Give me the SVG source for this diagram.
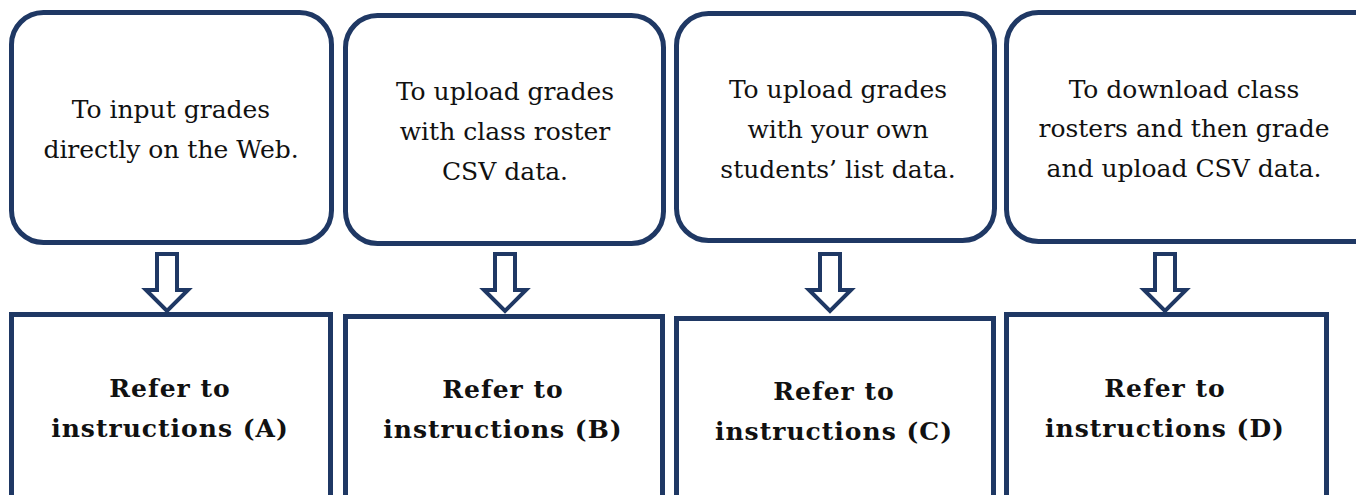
<svg xmlns="http://www.w3.org/2000/svg" width="1356" height="495" viewBox="0 0 1356 495">
<style>
.box{fill:#fff;stroke:#1f3864;stroke-width:5}
.arrow{fill:#fff;stroke:#1f3864;stroke-width:4;stroke-linejoin:miter}
.t{font-family:"DejaVu Serif","Liberation Serif",serif;font-size:25px;fill:#111;text-anchor:middle}
.b{font-family:"DejaVu Serif","Liberation Serif",serif;font-size:25px;font-weight:bold;fill:#111;text-anchor:middle;letter-spacing:1px}
</style>
<defs>
<path id="arr" d="M-10,0 H10 V36 H21 L0,57 L-21,36 H-10 Z"/>
</defs>
<g id="top-a"><rect class="box" x="11.5" y="12.5" width="320" height="230" rx="32"/>
<text class="t" x="171" y="118">To input grades</text><text class="t" x="171" y="158">directly on the Web.</text></g>
<g id="top-b"><rect class="box" x="345.5" y="15.5" width="318" height="228" rx="32"/>
<text class="t" x="505" y="100">To upload grades</text><text class="t" x="505" y="140">with class roster</text><text class="t" x="505" y="180">CSV data.</text></g>
<g id="top-c"><rect class="box" x="676.5" y="13.5" width="318" height="227" rx="32"/>
<text class="t" x="838" y="98">To upload grades</text><text class="t" x="838" y="138">with your own</text><text class="t" x="838" y="178">students’ list data.</text></g>
<g id="top-d"><rect class="box" x="1006.5" y="12.5" width="380" height="229" rx="32"/>
<text class="t" x="1184" y="98">To download class</text><text class="t" x="1184" y="137">rosters and then grade</text><text class="t" x="1184" y="177">and upload CSV data.</text></g>
<g id="bot-a"><rect class="box" x="11.5" y="314.5" width="319" height="200"/>
<text class="b" x="170" y="397">Refer to</text><text class="b" x="170" y="437">instructions (A)</text></g>
<g id="bot-b"><rect class="box" x="345.5" y="316.5" width="317" height="200"/>
<text class="b" x="503" y="398">Refer to</text><text class="b" x="503" y="438">instructions (B)</text></g>
<g id="bot-c"><rect class="box" x="676.5" y="318.5" width="317" height="200"/>
<text class="b" x="834" y="400">Refer to</text><text class="b" x="834" y="440">instructions (C)</text></g>
<g id="bot-d"><rect class="box" x="1006.5" y="314.5" width="320" height="200"/>
<text class="b" x="1165" y="397">Refer to</text><text class="b" x="1165" y="437">instructions (D)</text></g>
<g id="connectors">
<use href="#arr" class="arrow" x="167" y="254"/>
<use href="#arr" class="arrow" x="505" y="254"/>
<use href="#arr" class="arrow" x="830" y="254"/>
<use href="#arr" class="arrow" x="1165" y="254"/>
</g>
</svg>
